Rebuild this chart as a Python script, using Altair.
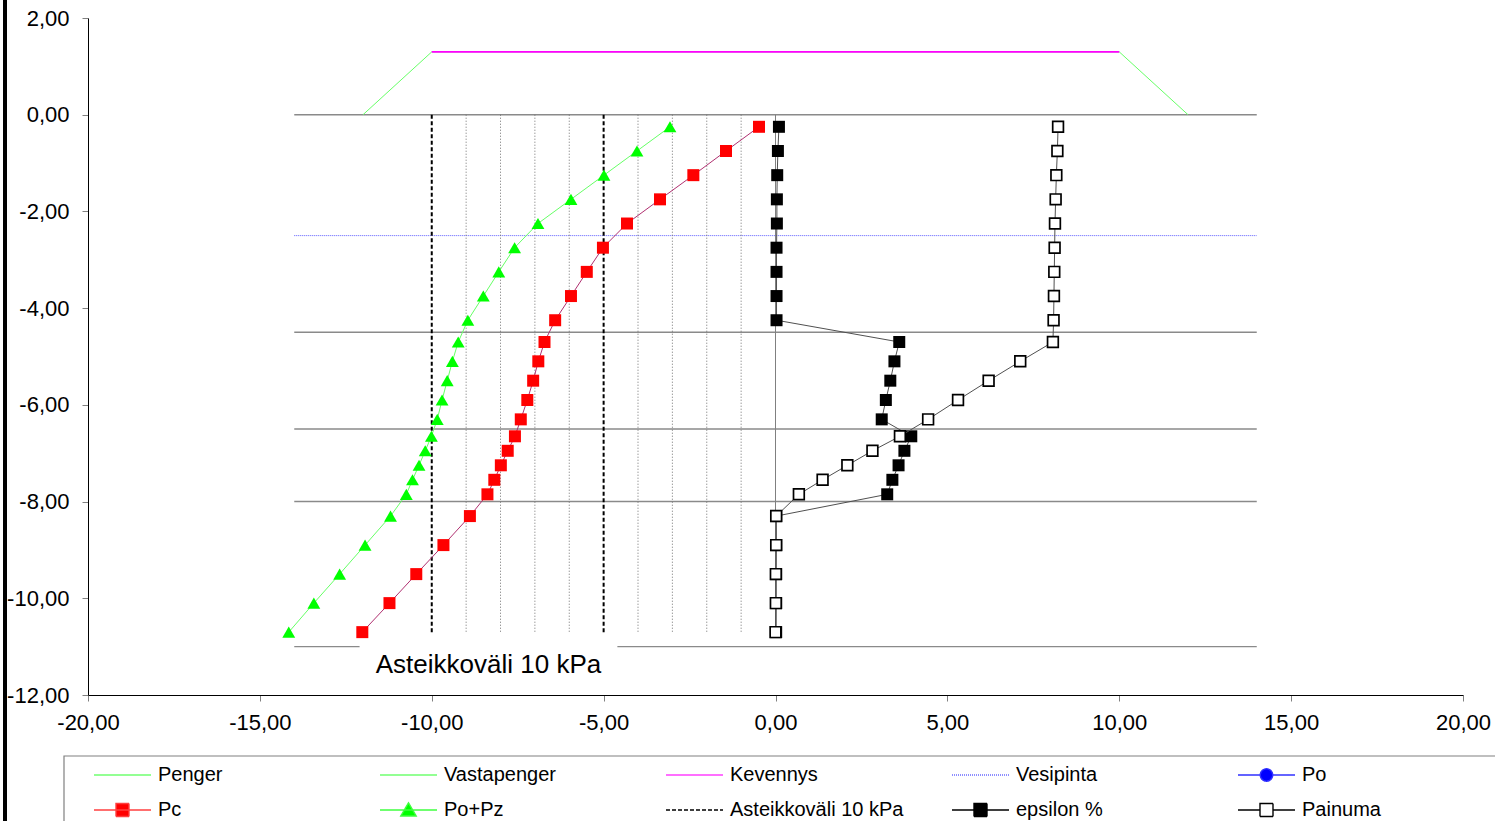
import altair as alt
import pandas as pd

# Calculation point depths (m) and computed values per point
depth = [-0.25, -0.75, -1.25, -1.75, -2.25, -2.75, -3.25, -3.75, -4.25,
         -4.7, -5.1, -5.5, -5.9, -6.3,
         -6.65, -6.95, -7.25, -7.55, -7.85,
         -8.3, -8.9, -9.5, -10.1, -10.7]
pc = [-0.48, -1.44, -2.39, -3.36, -4.32, -5.02, -5.49, -5.95, -6.41,
      -6.72, -6.90, -7.05, -7.22, -7.41,
      -7.58, -7.79, -7.99, -8.18, -8.38,
      -8.89, -9.66, -10.45, -11.23, -12.02]
po_pz = [-3.07, -4.03, -4.99, -5.95, -6.91, -7.59, -8.05, -8.50, -8.95,
         -9.23, -9.40, -9.55, -9.70, -9.84,
         -10.01, -10.19, -10.37, -10.56, -10.74,
         -11.20, -11.94, -12.68, -13.43, -14.16]
epsilon = [0.10, 0.07, 0.05, 0.04, 0.04, 0.03, 0.03, 0.03, 0.03,
           3.60, 3.46, 3.34, 3.21, 3.09,
           3.95, 3.75, 3.58, 3.40, 3.25,
           0.02, 0.02, 0.02, 0.02, 0.02]
painuma = [8.22, 8.20, 8.17, 8.15, 8.13, 8.12, 8.11, 8.10, 8.09,
           8.07, 7.12, 6.20, 5.31, 4.44,
           3.62, 2.82, 2.09, 1.37, 0.68,
           0.02, 0.02, 0.01, 0.01, 0.00]

# Embankment outline and lightening
penger_x = [-12, -10, 10, 12]
penger_y = [0, 1.3, 1.3, 0]
kevennys_x = [-10, 10]
kevennys_y = [1.3, 1.3]

# Soil layer boundaries (the bottom one is split around the scale note)
layer_y = [0, -4.5, -6.5, -8, -11, -11]
layer_x1 = [-14, -14, -14, -14, -14, -4.6]
layer_x2 = [14, 14, 14, 14, -12.1, 14]

# Ground water level
water_y = [-2.5]
water_x1 = [-14]
water_x2 = [14]

# Stress scale lines, 1 unit = 10 kPa
scale_major = [-10, -5]
scale_minor = [-9, -8, -7, -6, -4, -3, -2, -1]
scale_zero = [0]
scale_top = 0
scale_bottom = -10.7

note_text = ["Asteikkoväli 10 kPa"]
note_x = [-8.35]
note_y = [-11.55]

series = ["Penger", "Vastapenger", "Kevennys", "Vesipinta", "Po",
          "Pc", "Po+Pz", "Asteikkoväli 10 kPa", "epsilon %", "Painuma"]

x_ticks = [-20, -15, -10, -5, 0, 5, 10, 15, 20]
y_ticks = [2, 0, -2, -4, -6, -8, -10, -12]

FONT = "Liberation Sans"
label_expr = "replace(replace(format(datum.value, '.2f'), '.', ','), '\u2212', '-')"

xs = alt.Scale(domain=[-20, 20], nice=False, zero=False)
ys = alt.Scale(domain=[-12, 2], nice=False, zero=False)
x_axis = alt.Axis(values=x_ticks, labelExpr=label_expr, title=None, grid=False,
                  domainColor="black", domainWidth=1, tickColor="#808080", tickSize=6,
                  labelFont=FONT, labelFontSize=22, labelColor="black",
                  labelPadding=11, labelFlush=False, labelOverlap=False)
y_axis = alt.Axis(values=y_ticks, labelExpr=label_expr, title=None, grid=False,
                  domainColor="black", domainWidth=1, tickColor="#808080", tickSize=6,
                  labelFont=FONT, labelFontSize=22, labelColor="black",
                  labelPadding=13, labelFlush=False, labelOverlap=False)


def X(field):
    return alt.X(field, type="quantitative", scale=xs, axis=x_axis)


def Y(field):
    return alt.Y(field, type="quantitative", scale=ys, axis=y_axis)


points = pd.DataFrame({"i": range(len(depth)), "d": depth, "pc": pc,
                       "popz": po_pz, "eps": epsilon, "pain": painuma})

layers_df = pd.DataFrame({"y": layer_y, "x1": layer_x1, "x2": layer_x2})
water_df = pd.DataFrame({"y": water_y, "x1": water_x1, "x2": water_x2})
penger_df = pd.DataFrame({"i": range(len(penger_x)), "x": penger_x, "y": penger_y})
kev_df = pd.DataFrame({"i": range(len(kevennys_x)), "x": kevennys_x, "y": kevennys_y})


def vlines(xvals):
    return pd.DataFrame({"x": xvals, "y1": [scale_top] * len(xvals),
                         "y2": [scale_bottom] * len(xvals)})


layer_lines = alt.Chart(layers_df).mark_rule(color="#8a8a8a", strokeWidth=1.4).encode(
    x=X("x1"), x2="x2", y=Y("y"))
water = alt.Chart(water_df).mark_rule(color="#5a5aff", strokeWidth=1, strokeDash=[1, 1]).encode(
    x=X("x1"), x2="x2", y=Y("y"))
penger = alt.Chart(penger_df).mark_line(color="#66ff66", strokeWidth=1).encode(
    x=X("x"), y=Y("y"), order="i:Q")
kevennys = alt.Chart(kev_df).mark_line(color="#ff00ff", strokeWidth=1.6).encode(
    x=X("x"), y=Y("y"), order="i:Q")

minor = alt.Chart(vlines(scale_minor)).mark_rule(
    color="#707070", strokeWidth=1, strokeDash=[1, 2]).encode(x=X("x"), y=Y("y1"), y2="y2")
zero = alt.Chart(vlines(scale_zero)).mark_rule(
    color="#808080", strokeWidth=1).encode(x=X("x"), y=Y("y1"), y2="y2")
major = alt.Chart(vlines(scale_major)).mark_rule(
    color="black", strokeWidth=2, strokeDash=[4, 2.5]).encode(x=X("x"), y=Y("y1"), y2="y2")

base = alt.Chart(points)
pc_line = base.mark_line(color="#b03070", strokeWidth=1).encode(x=X("pc"), y=Y("d"), order="i:Q")
pc_pts = base.mark_point(shape="square", filled=True, size=144, color="#ff0000", opacity=1).encode(
    x=X("pc"), y=Y("d"))
popz_line = base.mark_line(color="#66ff66", strokeWidth=1).encode(x=X("popz"), y=Y("d"), order="i:Q")
popz_pts = base.mark_point(shape="triangle-up", filled=True, size=165, color="#00ff00", opacity=1).encode(
    x=X("popz"), y=Y("d"))
eps_line = base.mark_line(color="#505050", strokeWidth=1).encode(x=X("eps"), y=Y("d"), order="i:Q")
eps_pts = base.mark_point(shape="square", filled=True, size=144, color="black", opacity=1).encode(
    x=X("eps"), y=Y("d"))
pain_line = base.mark_line(color="#505050", strokeWidth=1).encode(x=X("pain"), y=Y("d"), order="i:Q")
pain_pts = base.mark_point(shape="square", size=115, fill="white", filled=False,
                           stroke="black", strokeWidth=1.7, opacity=1).encode(
    x=X("pain"), y=Y("d"))

note = alt.Chart(pd.DataFrame({"t": note_text, "x": note_x, "y": note_y})).mark_text(
    font=FONT, fontSize=26, align="center", baseline="alphabetic", color="black").encode(
    x=X("x"), y=Y("y"), text="t:N")

# Legend symbols: a line segment with an optional marker in the middle
# (path units are 10 px at the chosen symbol size)
LINE = "M-2.85,0H2.85"
SQ = "M-0.65,-0.65H0.65V0.65H-0.65Z"
legend_shapes = [
    LINE, LINE, LINE, LINE,
    "M-2.85,0H-0.62M0.62,0H2.85M-0.62,0A0.62,0.62,0,1,0,0.62,0A0.62,0.62,0,1,0,-0.62,0Z",
    LINE + SQ,
    LINE + "M0,-0.72L0.77,0.6H-0.77Z",
    LINE,
    LINE + SQ,
    "M-2.85,0H-0.65M0.65,0H2.85" + SQ,
]
legend_stroke = ["#70ff70", "#70ff70", "#ff40ff", "#6a6aff", "#3030ff",
                 "#ff4040", "#40ff40", "black", "black", "black"]
legend_fill = ["transparent", "transparent", "transparent", "transparent", "#0000ff",
               "#ff0000", "#00ff00", "transparent", "black", "white"]
legend_dash = [[1, 0], [1, 0], [1, 0], [1, 1], [1, 0],
               [1, 0], [1, 0], [4, 2], [1, 0], [1, 0]]

leg = alt.Legend(orient="none", legendX=-24, legendY=738, direction="horizontal",
                 columns=5, gridAlign="all", title=None,
                 labelFont=FONT, labelFontSize=20, labelColor="black",
                 labelOffset=24.5, labelLimit=400,
                 symbolSize=400, symbolStrokeWidth=1.4,
                 columnPadding=26, rowPadding=14, padding=8, symbolOffset=39.5)

legend_df = pd.DataFrame({"series": series, "x": [None] * len(series), "y": [None] * len(series)})
legend_layer = alt.Chart(legend_df).mark_point(filled=True, opacity=1).encode(
    x=X("x"), y=Y("y"),
    stroke=alt.Stroke("series:N", scale=alt.Scale(domain=series, range=legend_stroke), legend=leg),
    fill=alt.Fill("series:N", scale=alt.Scale(domain=series, range=legend_fill), legend=leg),
    shape=alt.Shape("series:N", scale=alt.Scale(domain=series, range=legend_shapes), legend=leg),
    strokeDash=alt.StrokeDash("series:N", scale=alt.Scale(domain=series, range=legend_dash), legend=leg),
)

one = pd.DataFrame({"a": [0]})
# Legend frame, running past the right and bottom edges of the chart area
legend_box = alt.Chart(one).mark_rect(fill="white", stroke="#808080", strokeWidth=1.2).encode(
    x=alt.value(-24), x2=alt.value(1440), y=alt.value(738), y2=alt.value(860))
# Frame line on the left edge of the chart area
frame = alt.Chart(one).mark_rule(color="black", strokeWidth=4).encode(
    x=alt.value(-83), y=alt.value(-18), y2=alt.value(803))

chart = alt.layer(
    legend_box,
    layer_lines, water, penger, kevennys,
    minor, zero, major,
    pc_line, pc_pts, popz_line, popz_pts,
    eps_line, eps_pts, pain_line, pain_pts,
    note, legend_layer, frame,
).properties(
    width=1375, height=677,
    autosize=alt.AutoSizeParams(type="none"),
    padding={"left": 88, "top": 18, "right": 32, "bottom": 126},
    background="white",
).configure_view(stroke=None)

chart.save("out.html", embed_options={"renderer": "svg", "actions": False})
